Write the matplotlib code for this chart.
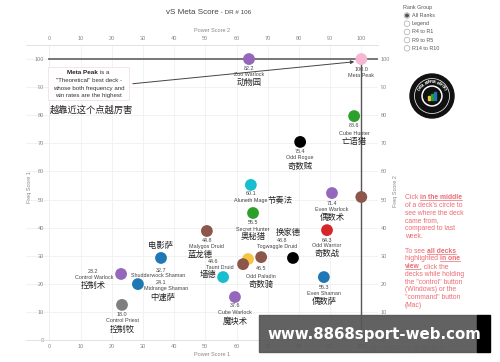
import matplotlib
matplotlib.use("Agg")
import matplotlib.pyplot as plt
from matplotlib.patches import Circle, Rectangle
import numpy as np

plt.rcParams['font.family'] = ['Liberation Sans', 'Noto Sans CJK SC', 'DejaVu Sans']

# deck data: power score 1 (x), freq score 1 (y), vS meta score
decks = ["Zoo Warlock", "Meta Peak", "Cube Hunter", "Odd Rogue", "Aluneth Mage",
         "Even Warlock", "", "Secret Hunter", "Malygos Druid", "Odd Warrior",
         "Togwaggle Druid", "", "Odd Paladin", "Taunt Druid", "", "Cube Warlock",
         "Even Shaman", "Shudderwock Shaman", "Midrange Shaman", "Control Warlock",
         "Control Priest"]
power_score = [64.0, 100.0, 97.7, 80.4, 64.6, 90.6, 100.0, 65.3, 50.5, 89.0,
               78.1, 63.7, 67.9, 62.1, 55.7, 59.5, 88.0, 35.8, 28.4, 23.0, 23.3]
freq_score = [100.0, 100.0, 79.7, 70.5, 55.2, 52.3, 50.9, 45.2, 38.8, 39.1,
              29.2, 28.8, 29.5, 27.0, 22.4, 15.3, 22.4, 29.2, 19.9, 23.5, 12.5]
vs_score = ["82.2", "100.0", "88.6", "75.4", "60.1", "71.4", "", "55.5", "44.8", "64.3",
            "48.8", "", "46.5", "44.6", "", "37.6", "55.3", "32.7", "24.1", "23.2", "18.0"]
deck_cn = ["动物园", "", "亡语猎", "奇数贼", "节奏法", "偶数术", "", "奥秘猎", "蓝龙德", "奇数战",
           "换家德", "", "奇数骑", "墙德", "", "魔块术", "偶数萨", "电影萨", "中速萨", "控制术", "控制牧"]
deck_colors = ["#9467bd", "#f7b6d2", "#2ca02c", "#000000", "#17becf", "#9467bd", "#8c564b",
               "#2ca02c", "#8c564b", "#d62728", "#000000", "#f5c542", "#8c564b", "#8c564b",
               "#17becf", "#9467bd", "#1f77b4", "#1f77b4", "#1f77b4", "#9467bd", "#7f7f7f"]

rank_groups = ["All Ranks", "Legend", "R4 to R1", "R9 to R5", "R14 to R10"]
ticks = list(range(0, 101, 10))

# label offsets in pixels (dx, dy downwards) for score, name, chinese name
default_off = (0, 10, 0, 16, 0, 25)
label_off = {
    "Zoo Warlock": (0, 9, 0, 15, 0, 24),
    "Cube Hunter": (0, 9, 0, 17, 0, 26),
    "Aluneth Mage": (0, 9, 0, 16, 29, 16),
    "Secret Hunter": (0, 9, 0, 16, 0, 24),
    "Malygos Druid": (0, 10, 0, 16, -7, 24),
    "Odd Warrior": (0, 10, 0, 15, 0, 24),
    "Togwaggle Druid": (-11, -17, -16, -11, -5, -25),
    "Odd Paladin": (0, 11, 0, 19, 0, 28),
    "Taunt Druid": (-30, -3, -23, 3, -35, 11),
    "Cube Warlock": (0, 8, 0, 15, 0, 24),
    "Shudderwock Shaman": (0, 13, -3, 18, 0, -12),
    "Midrange Shaman": (23, -2, 28, 4, 25, 14),
    "Control Warlock": (-28, -2, -27, 4, -28, 12),
}

W, H = 500, 362
fig = plt.figure(figsize=(5, 3.62), dpi=100)
ax = fig.add_axes([26 / W, 1 - 340 / H, 352 / W, 295 / H])
ax.set_xlim(-7.47, 105.35)
ax.set_ylim(0, 105)
ax.set_xticks(ticks)
ax.set_yticks(ticks)
ax.grid(color="#f0f0f0", lw=0.6)
ax.set_axisbelow(True)
for s in ["left", "right"]:
    ax.spines[s].set_visible(False)
for s in ["top", "bottom"]:
    ax.spines[s].set_color("#dddddd")
    ax.spines[s].set_linewidth(0.6)
ax.tick_params(axis="x", length=0, pad=3, labelsize=4, labelcolor="#888888",
               top=True, labeltop=True)
ax.tick_params(axis="y", length=0, pad=-13, labelsize=4, labelcolor="#888888")
ax.axvline(0, color="#f6dede", lw=0.7, zorder=0)

tw = ax.twinx()
tw.set_ylim(ax.get_ylim())
tw.set_yticks(ticks)
tw.tick_params(axis="y", length=0, pad=2, labelsize=4, labelcolor="#888888")
for s in tw.spines.values():
    s.set_visible(False)

# meta peak guide lines
ax.plot([0, 105.35], [100, 100], color="#777777", lw=1.4, zorder=1)
ax.plot([100, 100], [0, 100], color="#555555", lw=1.0, zorder=1)

ax.scatter(power_score, freq_score, s=72, c=deck_colors, zorder=3, linewidths=0)

for i, name in enumerate(decks):
    if not name:
        continue
    o = label_off.get(name, default_off)
    xy = (power_score[i], freq_score[i])
    ax.annotate(vs_score[i], xy, xytext=(o[0], -o[1]), textcoords="offset pixels",
                ha="center", va="center", fontsize=3.9, color="#444444", zorder=4)
    ax.annotate(name, xy, xytext=(o[2], -o[3]), textcoords="offset pixels",
                ha="center", va="center", fontsize=3.9, color="#444444", zorder=4)
    if deck_cn[i]:
        ax.annotate(deck_cn[i], xy, xytext=(o[4], -o[5]), textcoords="offset pixels",
                    ha="center", va="center", fontsize=6, color="#222222", zorder=4)

# overlay in pixel coordinates
ov = fig.add_axes([0, 0, 1, 1], zorder=10)
ov.set_xlim(0, W)
ov.set_ylim(H, 0)
ov.axis("off")
ov.patch.set_visible(False)
renderer = fig.canvas.get_renderer()

t1 = ov.text(166, 14, "vS Meta Score", fontsize=5.8, color="#444444", va="baseline")
bb = t1.get_window_extent(renderer)
ov.text(166 + bb.width, 14, " - DR # 106", fontsize=4.5, color="#444444", va="baseline")

ov.text(212, 30, "Power Score 2", fontsize=4, color="#888888", ha="center", va="center")
ov.text(212, 355, "Power Score 1", fontsize=4, color="#888888", ha="center", va="center")
ov.text(30, 187, "Freq Score 1", fontsize=4, color="#888888", ha="center", va="center",
        rotation=90)
ov.text(395, 191, "Freq Score 2", fontsize=4, color="#888888", ha="center", va="center",
        rotation=90)

# meta peak note
ov.add_patch(Rectangle((48, 67), 81, 33, facecolor="white", edgecolor="#f0e2e2", lw=0.6))
ta = ov.text(0, 74.5, "Meta Peak", fontsize=4.6, fontweight="bold", color="#222222",
             va="baseline")
tb = ov.text(0, 74.5, " is a", fontsize=4.4, color="#333333", va="baseline")
wa = ta.get_window_extent(renderer).width
wb = tb.get_window_extent(renderer).width
ta.set_x(88.5 - (wa + wb) / 2)
tb.set_x(88.5 - (wa + wb) / 2 + wa)
for k, line in enumerate(['"Theoretical" best deck -', "whose both frequency and",
                          "win rates are the highest"]):
    ov.text(88.5, 82.5 + 7.2 * k, line, fontsize=4.4, color="#333333", ha="center",
            va="baseline")
ov.annotate("", xy=(357, 61.5), xytext=(130, 84),
            arrowprops=dict(arrowstyle="-|>", color="#444444", lw=0.7, mutation_scale=5))
ov.text(50, 110, "越靠近这个点越厉害", fontsize=6.7, color="#222222", va="center",
        fontweight="medium")

# rank group selector
ov.text(403, 7, "Rank Group", fontsize=3.9, color="#555555", va="center")
for k, g in enumerate(rank_groups):
    y = 15.5 + 8.2 * k
    ov.add_patch(Circle((407, y), 2.8, facecolor="white", edgecolor="#aaaaaa", lw=0.5))
    if k == 0:
        ov.add_patch(Circle((407, y), 1.3, color="#555555"))
    ov.text(412, y, g, fontsize=3.9, color="#555555", va="center")

# logo
cx, cy = 432, 96
ov.add_patch(Circle((cx, cy), 22, color="#111111"))
ov.add_patch(Circle((cx, cy), 17.5, facecolor="none", edgecolor="white", lw=0.5))
ov.add_patch(Circle((cx, cy), 10, color="white"))
ov.add_patch(Circle((cx, cy), 8.5, color="#111111"))
for k, c in enumerate(["#f5c542", "#2ca02c", "#1f77b4"]):
    hgt = 4 + 2 * k
    ov.add_patch(Rectangle((cx - 4 + 3 * k, cy + 4 - hgt), 2.2, hgt, color=c))
for k, ch in enumerate("DATA REAPER REPORT"):
    ang = np.deg2rad(150 - k * 120 / 17)
    ov.text(cx + 14 * np.cos(ang), cy - 14 * np.sin(ang), ch, fontsize=2.6,
            fontweight="bold", color="white", ha="center", va="center",
            rotation=np.rad2deg(ang) - 90)

# red instructions
red = "#ec6b73"
red_lines = [
    (197, [("Cick ", False), ("in the middle", True)]),
    (205, [("of a deck's circle to", False)]),
    (213, [("see where the deck", False)]),
    (220, [("came from,", False)]),
    (228, [("compared to last", False)]),
    (236, [("week.", False)]),
    (251, [("To see ", False), ("all decks", True)]),
    (258, [("highlighted ", False), ("in one", True)]),
    (266, [("view", True), (", click the", False)]),
    (274, [("decks while holding", False)]),
    (282, [('the "control" button', False)]),
    (289, [("(Windows) or the", False)]),
    (297, [('"command" button', False)]),
    (305, [("(Mac)", False)]),
]
for y, parts in red_lines:
    x = 405
    for txt, strong in parts:
        t = ov.text(x, y + 2, txt, fontsize=4.9, color=red, va="baseline",
                    fontweight="bold" if strong else "normal")
        w = t.get_window_extent(renderer).width
        if strong:
            ov.plot([x, x + w], [y + 3.2, y + 3.2], color=red, lw=0.5)
        x += w

# watermark band
ov.text(405, 350, "大鱼号炉石传说赛游宝", fontsize=6, color="#d4d4d4", ha="center",
        va="center", zorder=1)
ov.add_patch(Rectangle((259, 315), 218, 37, color="#555555", alpha=0.92, zorder=2))
ov.add_patch(Rectangle((477, 315), 13, 37, color="#000000", zorder=2))
ov.text(374, 334, "www.8868sport-web.com", fontsize=10.8, fontweight="bold",
        family="DejaVu Sans", color="white", ha="center", va="center", zorder=3)

fig.savefig("out.png", dpi=100)
